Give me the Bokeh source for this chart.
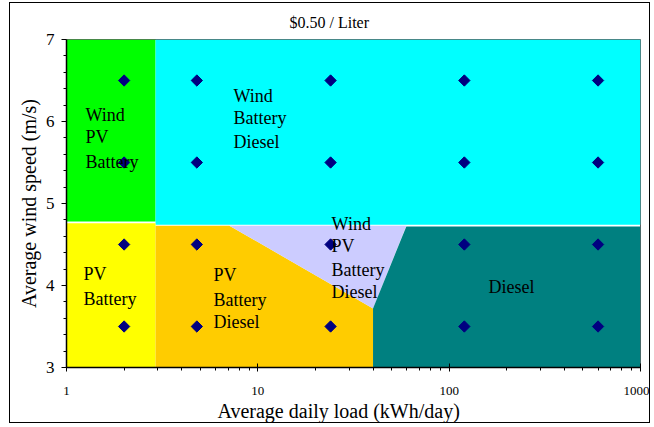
import math
from bokeh.plotting import figure
from bokeh.models import LogTicker, FixedTicker, ColumnDataSource, PrintfTickFormatter, Title
from bokeh.core.properties import value
from bokeh.embed import file_html
from bokeh.resources import INLINE

# ---- data ----
title_text = "$0.50 / Liter"
x_label = "Average daily load (kWh/day)"
y_label = "Average wind speed (m/s)"

# sample points (load, wind speed)
pts_x = [2, 4.8, 24, 120, 600] * 4
pts_y = [6.5] * 5 + [5.5] * 5 + [4.5] * 5 + [3.5] * 5

# optimal-system regions (polygon vertices in data units)
green_x = [1, 2.92, 2.92, 1]
green_y = [4.78, 4.78, 7, 7]
cyan_x = [2.92, 1000, 1000, 2.92]
cyan_y = [4.74, 4.74, 7, 7]
yellow_x = [1, 2.92, 2.92, 1]
yellow_y = [3, 3, 4.76, 4.76]
orange_x = [2.92, 40, 40, 7.1, 2.92]
orange_y = [3, 3, 3.72, 4.73, 4.73]
lavender_x = [7.1, 59.7, 40]
lavender_y = [4.73, 4.73, 3.72]
teal_x = [40, 1000, 1000, 59.7, 40]
teal_y = [3, 3, 4.72, 4.72, 3.72]

region_colors = ["#00FF00", "#00FFFF", "#FFFF00", "#FFCC00", "#CCCCFF", "#008080"]

# region labels: (x, y, text)
labels = [
    (1.257, 6.085, "Wind"), (1.257, 5.805, "PV"), (1.257, 5.512, "Battery"),
    (7.46, 6.317, "Wind"), (7.46, 6.037, "Battery"), (7.46, 5.756, "Diesel"),
    (24.3, 4.756, "Wind"), (24.3, 4.476, "PV"), (24.3, 4.183, "Battery"), (24.3, 3.915, "Diesel"),
    (1.227, 4.146, "PV"), (1.227, 3.841, "Battery"),
    (5.87, 4.122, "PV"), (5.87, 3.829, "Battery"), (5.87, 3.549, "Diesel"),
    (160.7, 3.976, "Diesel"),
]

FONT = "Liberation Serif"

p = figure(width=641, height=421, x_axis_type="log", x_range=(1, 1000), y_range=(3, 7),
           output_backend="svg", toolbar_location=None,
           min_border_left=56, min_border_right=11, min_border_top=36, min_border_bottom=57)
p.styles = {"border": "1px solid #000000", "margin-left": "9px", "margin-top": "2px"}
p.background_fill_color = "white"
p.border_fill_color = "white"
p.outline_line_color = "#606060"
p.grid.visible = False

p.add_layout(Title(text=x_label, text_font=FONT, text_font_size="20px", text_font_style="normal",
                   text_color="black", align="left", offset=151, standoff=0), "below")
p.add_layout(Title(text=title_text, text_font=FONT, text_font_size="16px", text_font_style="normal",
                   text_color="black", align="left", offset=223, standoff=17,
                   text_line_height=0.9), "above")

xs = [green_x, cyan_x, yellow_x, orange_x, lavender_x, teal_x]
ys = [green_y, cyan_y, yellow_y, orange_y, lavender_y, teal_y]
p.patches(xs, ys, fill_color=region_colors, line_color=None)

p.scatter(pts_x, pts_y, marker="square", size=8, angle=math.pi / 4,
          fill_color="#000080", line_color="#000080")

src = ColumnDataSource(dict(x=[l[0] for l in labels], y=[l[1] for l in labels], t=[l[2] for l in labels]))
p.text("x", "y", text="t", source=src, text_font=value(FONT), text_font_size="18px",
       text_baseline="middle", text_align="left", text_color="black")

# axes
xa = p.xaxis[0]
xa.ticker = LogTicker(num_minor_ticks=10)
xa.formatter = PrintfTickFormatter(format="%d")
xa.major_label_text_font = FONT
xa.major_label_text_font_size = "13px"
xa.major_label_text_color = "black"
xa.major_label_standoff = 15
xa.major_tick_in = 4
xa.major_tick_out = 4
xa.minor_tick_in = 0
xa.minor_tick_out = 3
xa.axis_line_width = 1.5
xa.axis_line_color = "black"
xa.major_tick_line_color = "black"
xa.minor_tick_line_color = "black"

ya = p.yaxis[0]
ya.ticker = FixedTicker(ticks=[3, 4, 5, 6, 7], minor_ticks=[3.2, 3.4, 3.6, 3.8, 4.2, 4.4, 4.6, 4.8,
                                                          5.2, 5.4, 5.6, 5.8, 6.2, 6.4, 6.6, 6.8])
ya.major_label_text_font = FONT
ya.major_label_text_font_size = "17px"
ya.major_label_text_color = "black"
ya.major_label_standoff = 7
ya.major_tick_in = 0
ya.major_tick_out = 5
ya.minor_tick_in = 0
ya.minor_tick_out = 3
ya.axis_line_width = 1.5
ya.axis_line_color = "black"
ya.major_tick_line_color = "black"
ya.minor_tick_line_color = "black"
ya.axis_label = y_label
ya.axis_label_text_font = FONT
ya.axis_label_text_font_size = "20px"
ya.axis_label_text_font_style = "normal"
ya.axis_label_text_color = "black"
ya.axis_label_standoff = 3

open("out.html", "w").write(file_html(p, INLINE))
